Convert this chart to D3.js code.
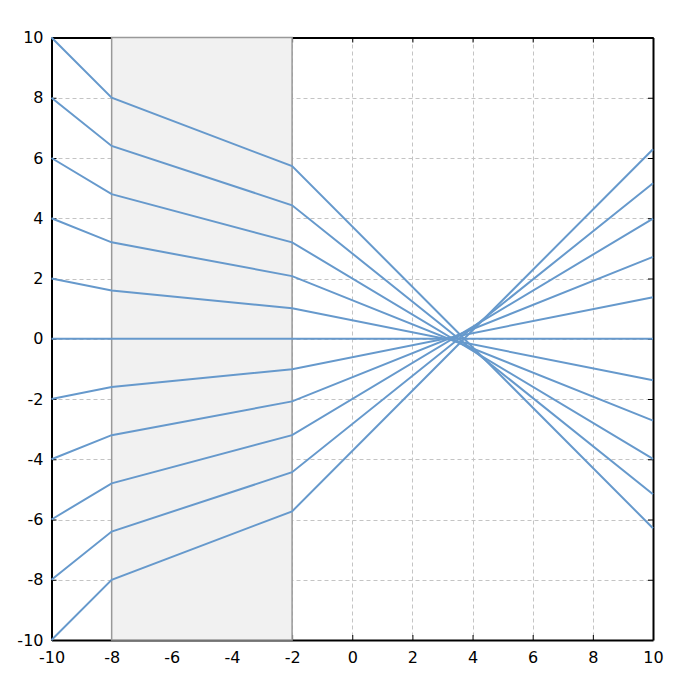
<!DOCTYPE html>
<html>
<head>
<meta charset="utf-8">
<script src="https://cdn.jsdelivr.net/npm/d3@7"></script>
<style>
html,body{margin:0;padding:0;background:#fff;}
svg text{font-family:"DejaVu Sans",Verdana,sans-serif;font-size:16px;fill:#000;}
</style>
</head>
<body>
<svg id="chart" width="700" height="682"></svg>
<script>
const xPoints = [-10, -8, -2, 10];
const series = [
  [10, 8, 5.73, -6.29],
  [8, 6.4, 4.43, -5.16],
  [6, 4.8, 3.2, -3.99],
  [4, 3.2, 2.08, -2.72],
  [2, 1.6, 1.01, -1.38],
  [0, 0, 0, 0],
  [-2, -1.6, -1.01, 1.38],
  [-4, -3.2, -2.08, 2.72],
  [-6, -4.8, -3.2, 3.99],
  [-8, -6.4, -4.43, 5.16],
  [-10, -8, -5.73, 6.29]
];
const bandRange = [-8, -2];
const xTicks = [-10, -8, -6, -4, -2, 0, 2, 4, 6, 8, 10];
const yTicks = [-10, -8, -6, -4, -2, 0, 2, 4, 6, 8, 10];

const svg = d3.select("#chart");
const L = 51.5, R = 653, T = 37.5, B = 640;
const x = d3.scaleLinear().domain([-10, 10]).range([L, R]);
const y = d3.scaleLinear().domain([-10, 10]).range([B, T]);
const fmt = d => String(d);

// grid
const grid = svg.append("g");
grid.selectAll(".gx").data(xTicks).enter().append("line")
  .attr("x1", d => Math.round(x(d)) + 0.5).attr("x2", d => Math.round(x(d)) + 0.5)
  .attr("y1", T).attr("y2", B)
  .attr("stroke", "#c4c4c4").attr("stroke-dasharray", "4,3");
grid.selectAll(".gy").data(yTicks).enter().append("line")
  .attr("y1", d => Math.round(y(d)) + 0.5).attr("y2", d => Math.round(y(d)) + 0.5)
  .attr("x1", L).attr("x2", R)
  .attr("stroke", "#c4c4c4").attr("stroke-dasharray", "4,3");

// frame axes
const axBottom = svg.append("g").attr("transform", `translate(0,${B})`)
  .call(d3.axisBottom(x).tickValues(xTicks).tickSizeInner(-5).tickSizeOuter(0).tickPadding(12).tickFormat(fmt));
const axTop = svg.append("g").attr("transform", `translate(0,${T})`)
  .call(d3.axisTop(x).tickValues(xTicks).tickSizeInner(-5).tickSizeOuter(0).tickFormat(""));
const axLeft = svg.append("g").attr("transform", `translate(${L},0)`)
  .call(d3.axisLeft(y).tickValues(yTicks).tickSizeInner(-5).tickSizeOuter(0).tickPadding(8).tickFormat(fmt));
const axRight = svg.append("g").attr("transform", `translate(${R},0)`)
  .call(d3.axisRight(y).tickValues(yTicks).tickSizeInner(-5).tickSizeOuter(0).tickFormat(""));
[axBottom, axTop, axLeft, axRight].forEach(g => {
  g.select(".domain").attr("stroke", "#000").attr("stroke-width", 2);
  g.selectAll(".tick line").attr("stroke", "#000");
  g.selectAll("text").attr("font-family", "DejaVu Sans").attr("font-size", 16);
});

// band
svg.append("rect")
  .attr("x", x(bandRange[0])).attr("y", T)
  .attr("width", x(bandRange[1]) - x(bandRange[0])).attr("height", B - T)
  .attr("fill", "#f1f1f1").attr("stroke", "#999").attr("stroke-width", 1.5);

// lines
const line = d3.line().x((d, i) => x(xPoints[i])).y(d => y(d));
svg.append("g").selectAll("path").data(series).enter().append("path")
  .attr("d", line).attr("fill", "none")
  .attr("stroke", "#6699cc").attr("stroke-width", 2);
</script>
</body>
</html>
